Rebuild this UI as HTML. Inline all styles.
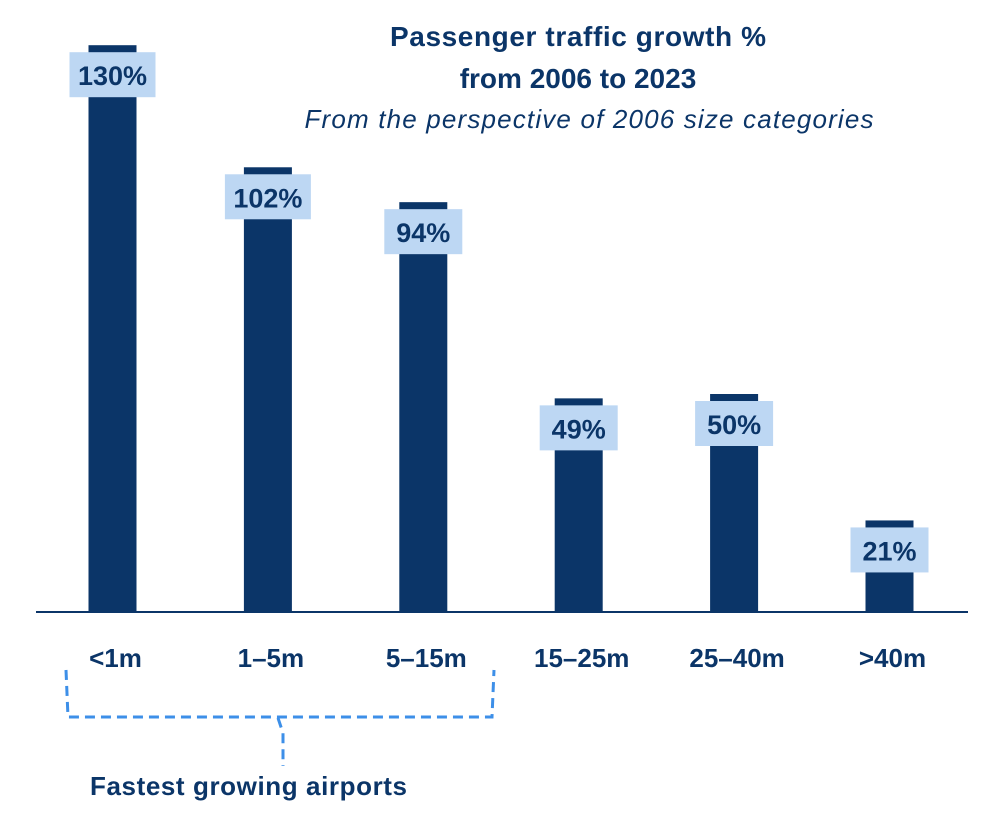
<!DOCTYPE html>
<html><head><meta charset="utf-8"><style>
body{margin:0;background:#fff;width:996px;height:821px;overflow:hidden}
svg{display:block;font-family:"Liberation Sans",sans-serif}
</style></head><body>
<svg id="chart" width="996" height="821">
<text x="578" y="46" text-anchor="middle" font-size="28" font-weight="bold" fill="#0b3568" textLength="376">Passenger traffic growth %</text>
<text x="578" y="88" text-anchor="middle" font-size="28" font-weight="bold" fill="#0b3568">from 2006 to 2023</text>
<text x="589" y="128" text-anchor="middle" font-size="26" font-style="italic" fill="#0b3568" textLength="569">From the perspective of 2006 size categories</text>
<g id="bars"></g>
<line x1="36" y1="612" x2="968" y2="612" stroke="#0b3568" stroke-width="2"/>
<path d="M66 670 L68 717 L492 717 L494 670" fill="none" stroke="#3d8fe8" stroke-width="3" stroke-dasharray="10,6"/>
<path d="M278 718 L283 733 L283 766" fill="none" stroke="#3d8fe8" stroke-width="3" stroke-dasharray="10,6"/>
<text x="90" y="795" font-size="26" font-weight="bold" fill="#0b3568" textLength="317">Fastest growing airports</text>
</svg>
<script>
const categories=["<1m","1–5m","5–15m","15–25m","25–40m",">40m"];
const values=[130,102,94,49,50,21];
const valueLabels=["130%","102%","94%","49%","50%","21%"];
const NS="http://www.w3.org/2000/svg";
const g=document.getElementById("bars");
const base=612, scale=4.36;
function xc(i){return 112.5+i*155.4;}
function y(v){return base-v*scale;}
function mk(t,a){const e=document.createElementNS(NS,t);for(const k in a)e.setAttribute(k,a[k]);g.appendChild(e);return e;}
values.forEach((v,i)=>{
  const cx=xc(i), top=y(v);
  const b=mk("rect",{x:cx-24,y:top,width:48,height:base-top,fill:"#0b3568"});
  
  
  const w=valueLabels[i].length>3?86:78;
  const bx=mk("rect",{x:cx-w/2,y:top+7,width:w,height:45,fill:"#bdd7f3"});
  
  
  const t=mk("text",{x:cx,y:top+40,"text-anchor":"middle","font-size":"27","font-weight":"bold",fill:"#0b3568"});
  t.textContent=valueLabels[i];
  
  
  const c=mk("text",{x:cx+3,y:667,"text-anchor":"middle","font-size":"26","font-weight":"bold",fill:"#0b3568"});
  c.textContent=categories[i];
  
  
});
</script>
</body></html>
